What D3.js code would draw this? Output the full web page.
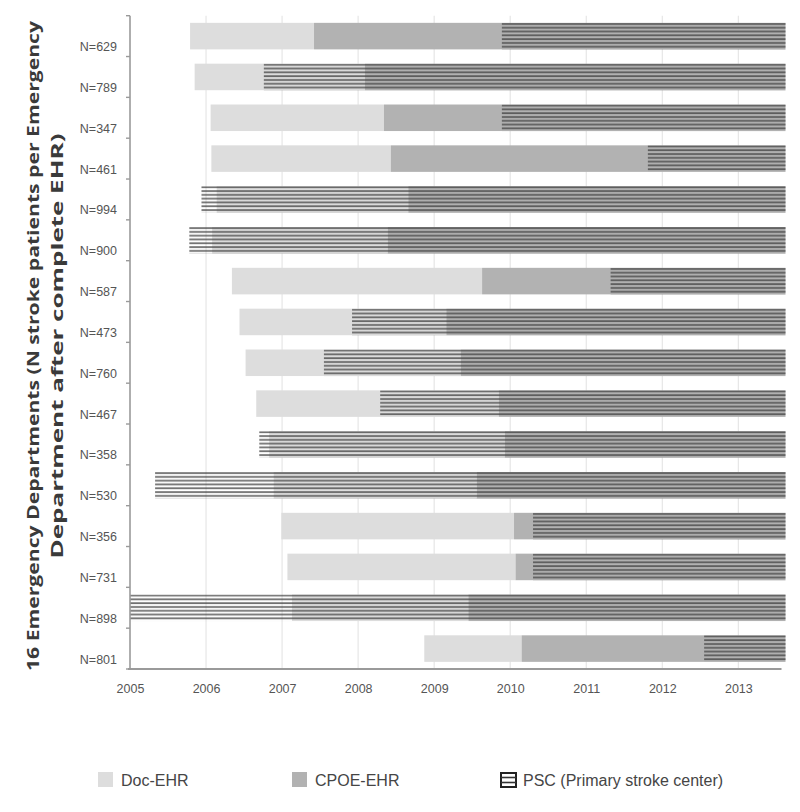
<!DOCTYPE html>
<html>
<head>
<meta charset="utf-8">
<script src="https://cdn.jsdelivr.net/npm/d3@7"></script>
<style>
  body { margin: 0; background: #fff; }
  svg { display: block; font-family: "Liberation Sans", Arial, sans-serif; }
</style>
</head>
<body>
<svg id="chart" width="800" height="812"></svg>
<script>
// Emergency departments, top to bottom
const departments = ["N=629", "N=789", "N=347", "N=461", "N=994", "N=900", "N=587", "N=473",
                     "N=760", "N=467", "N=358", "N=530", "N=356", "N=731", "N=898", "N=801"];
// year each phase began (decimal years)
const docStart  = [2005.79, 2005.85, 2006.06, 2006.07, 2006.14, 2006.08, 2006.34, 2006.44,
                   2006.52, 2006.66, 2006.83, 2006.89, 2006.99, 2007.07, 2007.13, 2008.87];
const cpoeStart = [2007.42, 2008.09, 2008.34, 2008.43, 2008.66, 2008.39, 2009.63, 2009.16,
                   2009.35, 2009.85, 2009.93, 2009.56, 2010.05, 2010.07, 2009.45, 2010.15];
const pscStart  = [2009.89, 2006.76, 2009.89, 2011.81, 2005.94, 2005.78, 2011.32, 2007.92,
                   2007.55, 2008.29, 2006.70, 2005.33, 2010.30, 2010.30, 2005.00, 2012.55];
const studyEnd = 2013.62;
const years = [2005, 2006, 2007, 2008, 2009, 2010, 2011, 2012, 2013];
const legendItems = ["Doc-EHR", "CPOE-EHR", "PSC (Primary stroke center)"];

const colors = { doc: "#dddddd", cpoe: "#b2b2b2", hatch: "#404040", axis: "#9a9a9a", grid: "#e6e6e6", text: "#555" };

const svg = d3.select("#chart");
const rows = departments.map((d, i) => ({
    label: d, doc: docStart[i], cpoe: cpoeStart[i], psc: pscStart[i]
}));

const x = d3.scaleLinear().domain([2005, studyEnd]).range([130, 785.5]);
const y = d3.scaleBand().domain(departments).range([15.7, 669]).paddingInner(0.35).paddingOuter(0.175);
const barH = y.bandwidth();

// horizontal line hatch for PSC
const defs = svg.append("defs");
const pat = defs.append("pattern")
    .attr("id", "psc")
    .attr("patternUnits", "userSpaceOnUse")
    .attr("width", 8).attr("height", 3.8);
pat.append("rect")
    .attr("x", 0).attr("y", 0.2).attr("width", 8).attr("height", 1.8)
    .attr("fill", colors.hatch).attr("fill-opacity", 0.75);

// vertical gridlines
svg.append("g")
    .selectAll("line")
    .data(years.slice(1))
    .join("line")
    .attr("x1", d => x(d)).attr("x2", d => x(d))
    .attr("y1", 15.7).attr("y2", 669)
    .attr("stroke", colors.grid).attr("stroke-width", 1.2);

// bars
const row = svg.append("g")
    .selectAll("g")
    .data(rows)
    .join("g")
    .attr("transform", d => `translate(0,${y(d.label)})`);

row.append("rect")
    .attr("x", d => x(d.doc))
    .attr("width", d => x(d.cpoe) - x(d.doc))
    .attr("height", barH)
    .attr("fill", colors.doc);

row.append("rect")
    .attr("x", d => x(d.cpoe))
    .attr("width", d => x(studyEnd) - x(d.cpoe))
    .attr("height", barH)
    .attr("fill", colors.cpoe);

row.append("rect")
    .attr("x", d => x(d.psc))
    .attr("width", d => x(studyEnd) - x(d.psc))
    .attr("height", barH)
    .attr("fill", "url(#psc)");

// x axis
const xAxis = svg.append("g")
    .attr("transform", "translate(0,669)")
    .call(d3.axisBottom(x).tickValues(years).tickFormat(d3.format("d")).tickSize(0).tickPadding(15));
xAxis.select(".domain").attr("stroke", colors.axis).attr("stroke-width", 2)
    .attr("d", `M${x(2005) - 2},0H${x(studyEnd) - 4}`);
xAxis.selectAll("text").attr("font-size", 12.5).attr("fill", colors.text)
    .attr("font-family", "Liberation Sans, Arial, sans-serif");

// y axis
const yAxis = svg.append("g")
    .attr("transform", "translate(130,0)")
    .call(d3.axisLeft(y).tickSize(0).tickPadding(13));
yAxis.select(".domain").remove();
yAxis.selectAll("text").attr("font-size", 12.5).attr("fill", colors.text)
    .attr("font-family", "Liberation Sans, Arial, sans-serif")
    .attr("dy", "1.2em");

svg.append("line")
    .attr("x1", 130).attr("x2", 130).attr("y1", 15.7).attr("y2", 670)
    .attr("stroke", colors.axis).attr("stroke-width", 1.6);
svg.append("g")
    .selectAll("line")
    .data(d3.range(departments.length + 1))
    .join("line")
    .attr("x1", 126).attr("x2", 130)
    .attr("y1", i => 15.7 + i * y.step()).attr("y2", i => 15.7 + i * y.step())
    .attr("stroke", colors.axis).attr("stroke-width", 1.4);

// y title
const title = svg.append("text")
    .attr("transform", "translate(45,346) rotate(-90)")
    .attr("text-anchor", "middle")
    .attr("font-family", "'Open Sans', 'Liberation Sans', sans-serif")
    .attr("font-weight", "bold")
    .attr("font-size", 16.5)
    .attr("fill", "#3a3a3a");
title.append("tspan").attr("x", 0).attr("y", -6)
    .attr("textLength", 650).attr("lengthAdjust", "spacingAndGlyphs")
    .text("16 Emergency Departments  (N stroke patients per Emergency");
title.append("tspan").attr("x", 0).attr("y", 18)
    .attr("textLength", 425).attr("lengthAdjust", "spacingAndGlyphs")
    .text("Department after complete EHR)");

// legend
const legendX = [98, 292, 500];
const legend = svg.append("g")
    .selectAll("g")
    .data(legendItems)
    .join("g")
    .attr("transform", (d, i) => `translate(${legendX[i]},772)`);

legend.filter((d, i) => i < 2).append("rect")
    .attr("width", 15).attr("height", 15)
    .attr("fill", (d, i) => i === 0 ? colors.doc : colors.cpoe);

const pscKey = legend.filter((d, i) => i === 2);
pscKey.append("rect")
    .attr("x", 1).attr("y", 1).attr("width", 15).attr("height", 14)
    .attr("fill", "#fff").attr("stroke", "#222").attr("stroke-width", 2);
pscKey.selectAll("line.k")
    .data([5.5, 10.5])
    .join("line")
    .attr("x1", 1).attr("x2", 16).attr("y1", d => d).attr("y2", d => d)
    .attr("stroke", "#333").attr("stroke-width", 1.6);

legend.append("text")
    .attr("x", 23)
    .attr("y", 8)
    .attr("dy", "0.36em")
    .attr("font-size", 16)
    .attr("fill", "#454545")
    .text(d => d);
</script>
</body>
</html>
